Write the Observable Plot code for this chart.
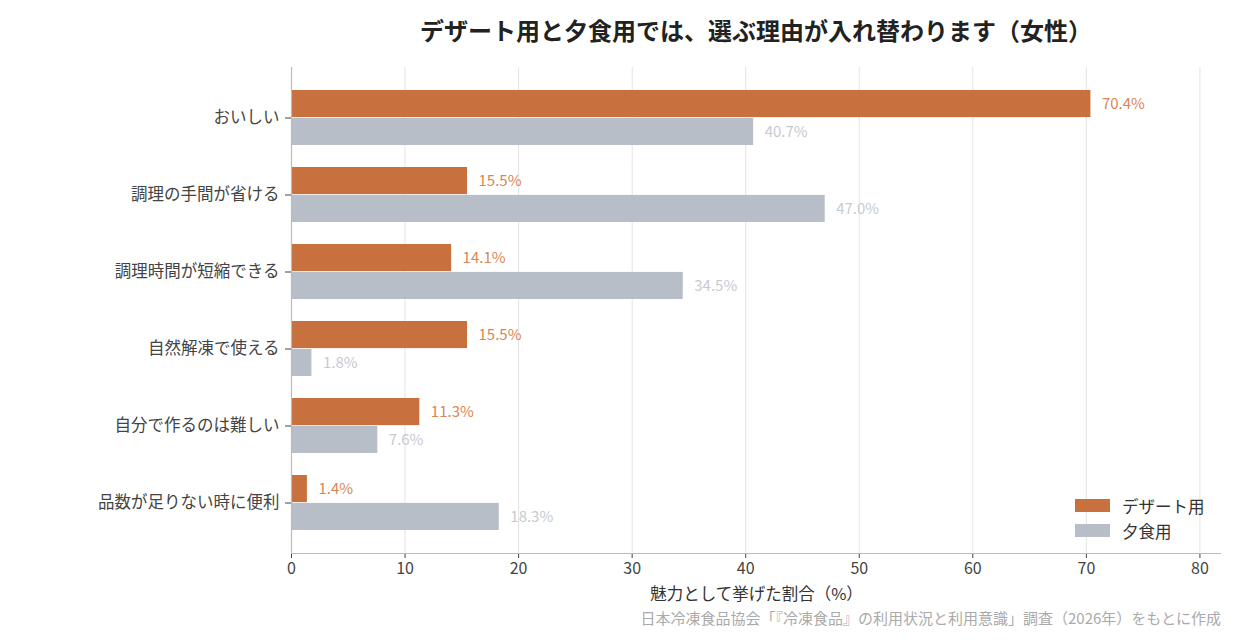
<!DOCTYPE html>
<html><head><meta charset="utf-8">
<script src="https://cdn.jsdelivr.net/npm/d3@7"></script>
<script src="https://cdn.jsdelivr.net/npm/@observablehq/plot@0.6"></script>
<style>
body{margin:0;background:#fff;font-family:"Noto Sans CJK JP","Noto Sans",sans-serif;}
#wrap{position:relative;width:1240px;height:640px;}
#title{position:absolute;left:191px;width:1130px;top:13px;text-align:center;font-size:24px;font-weight:bold;color:#222;line-height:34px;}
#chart{position:absolute;left:0;top:55px;}
#caption{position:absolute;right:19px;top:607px;font-size:15px;color:#aaa;line-height:22px;}
#legend{position:absolute;left:1075px;top:493px;font-size:16.5px;color:#333;}
.li{display:flex;align-items:center;height:25px;}
.sw{width:35px;height:13px;margin-right:12px;}
</style></head>
<body><div id="wrap">
<div id="title">デザート用と夕食用では、選ぶ理由が入れ替わります（女性）</div>
<div id="chart"></div>
<div id="legend"></div>
<div id="caption">日本冷凍食品協会「『冷凍食品』の利用状況と利用意識」調査（2026年）をもとに作成</div>
</div>
<script>
const categories = ["おいしい","調理の手間が省ける","調理時間が短縮できる","自然解凍で使える","自分で作るのは難しい","品数が足りない時に便利"];
const dessert = [70.4, 15.5, 14.1, 15.5, 11.3, 1.4];
const dinner = [40.7, 47.0, 34.5, 1.8, 7.6, 18.3];
const seriesNames = ["デザート用","夕食用"];
const colors = ["#c8703e","#b8bec7"];
const labelColors = ["#da8555","#c6cad1"];
const xTicks = [0,10,20,30,40,50,60,70,80];

const dData = categories.map((c,i)=>({cat:c, v:dessert[i]}));
const nData = categories.map((c,i)=>({cat:c, v:dinner[i]}));
const fmt = v => v.toFixed(1) + "%";

const chart = Plot.plot({
  width: 1240, height: 550,
  marginLeft: 291, marginRight: 19, marginTop: 12, marginBottom: 52,
  style: {fontFamily: '"Noto Sans CJK JP","Noto Sans",sans-serif', background: "transparent"},
  x: {domain: [0, 81.9], ticks: xTicks, label: null},
  y: {domain: categories, padding: 0.28, label: null},
  marks: [
    Plot.gridX(xTicks.filter(t=>t>0), {stroke: "#e3e3e3", strokeOpacity: 1, strokeWidth: 1}),
    Plot.barX(dData, {x: "v", y: "cat", fill: colors[0], insetTop: 0, insetBottom: 27.9}),
    Plot.barX(nData, {x: "v", y: "cat", fill: colors[1], insetTop: 27.9, insetBottom: 0}),
    Plot.text(dData, {x: "v", y: "cat", text: d=>fmt(d.v), dx: 11, dy: -14, textAnchor: "start", fill: labelColors[0], fontSize: 15}),
    Plot.text(nData, {x: "v", y: "cat", text: d=>fmt(d.v), dx: 11, dy: 14, textAnchor: "start", fill: labelColors[1], fontSize: 15}),
    Plot.ruleX([0], {stroke: "#bbb", strokeWidth: 1.2}),
    Plot.axisY({tickSize: 6, tickPadding: 6, fontSize: 16.5, fill: "#444", stroke: "#444", label: null}),
    Plot.axisX({ticks: xTicks, tickSize: 5, tickPadding: 4, fontSize: 16, fill: "#444", stroke: "#444", label: null}),
    Plot.axisX({ticks: [], label: "魅力として挙げた割合（%）", labelAnchor: "center", labelArrow: "none", labelOffset: 46, fontSize: 16.5, fill: "#333"})
  ]
});
// bottom spine
const svg = d3.select(chart);
svg.append("line").attr("x1",291).attr("x2",1221).attr("y1",498.5).attr("y2",498.5).attr("stroke","#bbb").attr("stroke-width",1.2);
document.getElementById("chart").appendChild(chart);

const lg = document.getElementById("legend");
seriesNames.forEach((n,i)=>{
  const d = document.createElement("div"); d.className="li";
  d.innerHTML = `<div class="sw" style="background:${colors[i]}"></div><span>${n}</span>`;
  lg.appendChild(d);
});
</script>
</body></html>
